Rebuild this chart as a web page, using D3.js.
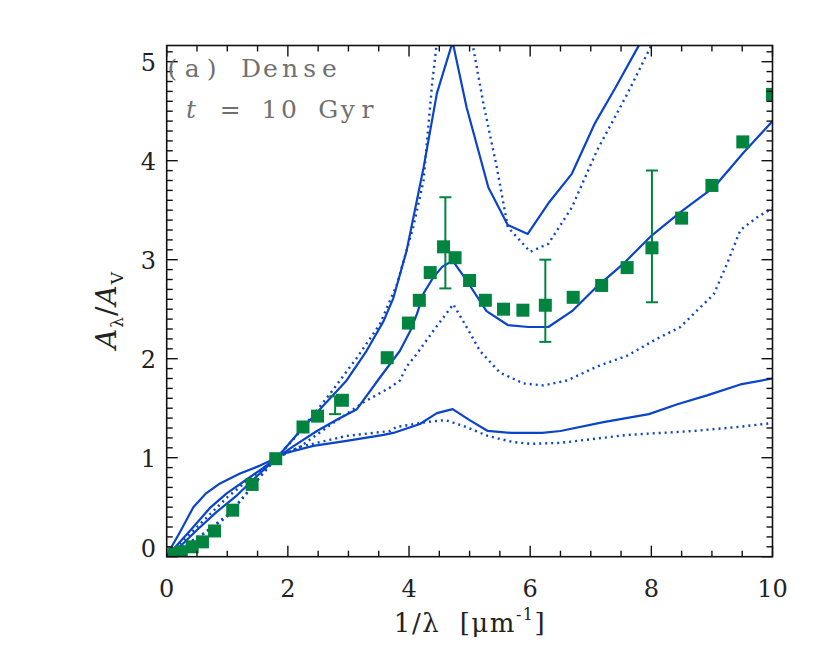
<!DOCTYPE html>
<html><head><meta charset="utf-8">
<script src="https://cdn.jsdelivr.net/npm/d3@7"></script>
<style>body{margin:0;background:#fff}</style>
</head><body>
<svg id="chart" width="830" height="656"></svg>
<script>
// ---------------- data ----------------
const xTickValues = [0, 2, 4, 6, 8, 10];
const yTickValues = [0, 1, 2, 3, 4, 5];
const xTickLabels = ["0", "2", "4", "6", "8", "10"];
const yTickLabels = ["0", "1", "2", "3", "4", "5"];

// model curves [1/lambda, A_lambda/A_V]
const topSolid = [[0,0],[0.25,0.12],[0.5,0.27],[0.82,0.45],[1.16,0.62],[1.5,0.82],[1.82,1.0],[2.2,1.27],[2.53,1.49],[2.97,1.78],[3.3,2.08],[3.58,2.38],[3.74,2.61],[3.96,3.09],[4.24,3.93],[4.46,4.68],[4.72,5.2],[4.95,4.54],[5.31,3.73],[5.63,3.35],[5.96,3.26],[6.30,3.57],[6.69,3.87],[7.07,4.38],[7.40,4.73],[7.79,5.16],[8.0,5.45]];
const topDotted = [[0,0],[0.6,0.23],[1.0,0.42],[1.32,0.64],[1.6,0.85],[1.82,1.0],[2.14,1.22],[2.69,1.64],[3.14,2.01],[3.52,2.35],[3.80,2.75],[4.07,3.33],[4.24,3.80],[4.38,4.77],[4.72,6.6],[5.06,5.14],[5.23,4.57],[5.45,3.93],[5.63,3.33],[6.0,3.08],[6.30,3.16],[6.69,3.53],[7.10,4.10],[7.60,4.67],[7.98,5.14],[8.2,5.45]];
const midSolid = [[0,0],[0.44,0.30],[0.71,0.49],[0.99,0.64],[1.32,0.78],[1.6,0.9],[1.82,1.0],[2.1,1.12],[2.48,1.27],[2.8,1.38],[3.14,1.49],[3.52,1.81],[3.85,2.08],[4.02,2.28],[4.13,2.45],[4.24,2.66],[4.40,2.82],[4.55,2.93],[4.72,2.99],[4.95,2.79],[5.28,2.48],[5.63,2.34],[5.97,2.32],[6.30,2.32],[6.69,2.48],[7.07,2.71],[7.54,2.96],[7.98,3.23],[8.48,3.48],[9.03,3.73],[9.52,4.08],[10.0,4.40]];
const midDotted = [[0,0],[0.6,0.23],[0.99,0.40],[1.32,0.64],[1.6,0.85],[1.82,1.0],[2.2,1.11],[2.7,1.33],[3.25,1.56],[3.69,1.71],[3.85,1.78],[3.96,1.92],[4.13,2.05],[4.40,2.28],[4.73,2.55],[4.95,2.32],[5.17,2.08],[5.50,1.86],[5.89,1.75],[6.22,1.73],[6.61,1.78],[7.10,1.92],[7.60,2.03],[8.09,2.20],[8.48,2.32],[8.76,2.49],[9.03,2.65],[9.25,2.96],[9.47,3.30],[9.75,3.43],[10.0,3.52]];
const lowSolid = [[0,0],[0.1,0.12],[0.22,0.25],[0.44,0.50],[0.65,0.64],[0.88,0.74],[1.21,0.84],[1.54,0.92],[1.82,1.0],[1.92,1.04],[2.42,1.12],[2.97,1.17],[3.58,1.23],[3.74,1.25],[4.18,1.34],[4.46,1.45],[4.72,1.49],[5.0,1.38],[5.3,1.27],[5.7,1.25],[6.2,1.25],[6.5,1.27],[7.21,1.36],[7.96,1.44],[8.43,1.54],[8.92,1.63],[9.47,1.74],[10.0,1.80]];
const lowDotted = [[0,0],[0.5,0.3],[1.0,0.6],[1.4,0.8],[1.82,1.0],[2.2,1.11],[2.97,1.22],[3.69,1.27],[3.79,1.31],[4.29,1.36],[4.6,1.38],[4.9,1.32],[5.3,1.22],[5.7,1.16],[6.0,1.14],[6.5,1.15],[7.6,1.23],[8.7,1.27],[9.42,1.31],[10.0,1.35]];

// observed extinction (squares)
const obsX = [0.13,0.24,0.42,0.59,0.79,1.09,1.41,1.80,2.25,2.49,2.90,3.64,3.99,4.17,4.35,4.57,4.76,5.0,5.26,5.56,5.88,6.25,6.71,7.18,7.60,8.01,8.50,9.0,9.51,10.0];
const obsY = [0.03,0.05,0.10,0.15,0.26,0.47,0.73,0.99,1.31,1.42,1.58,2.01,2.36,2.59,2.87,3.13,3.02,2.79,2.59,2.50,2.49,2.54,2.62,2.74,2.92,3.12,3.42,3.75,4.19,4.67];
// error bars
const errX  = [2.78, 4.60, 6.25, 8.01];
const errLo = [1.44, 2.71, 2.17, 2.57];
const errHi = [1.62, 3.63, 3.00, 3.90];

// ---------------- drawing ----------------
const svg = d3.select("#chart");
const L = 166.7, R = 772.5, T = 45.5, B = 556.7;
const x = d3.scaleLinear().domain([0, 10]).range([L, R]);
const y = d3.scaleLinear().domain([0, (B - T) / 99]).range([B, T]);

const blue = "#0a44c8", green = "#00843f";
const serif = "DejaVu Serif, Liberation Serif, serif";

svg.append("defs").append("clipPath").attr("id", "clip")
  .append("rect").attr("x", L).attr("y", T).attr("width", R - L).attr("height", B - T);

const plot = svg.append("g").attr("clip-path", "url(#clip)");
const line = d3.line().x(d => x(d[0])).y(d => y(d[1]));

const curves = [
  {d: topSolid, dash: null}, {d: topDotted, dash: "2,4"},
  {d: midSolid, dash: null}, {d: midDotted, dash: "2,4"},
  {d: lowSolid, dash: null}, {d: lowDotted, dash: "2,4"}
];
curves.forEach(c => {
  plot.append("path").datum(c.d).attr("d", line)
    .attr("fill", "none").attr("stroke", blue)
    .attr("stroke-width", c.dash ? 2.4 : 2.2)
    .attr("stroke-dasharray", c.dash)
    .attr("stroke-linejoin", "round");
});

// error bars
errX.forEach((ex, i) => {
  const g = plot.append("g").attr("stroke", green).attr("stroke-width", 2);
  g.append("line").attr("x1", x(ex)).attr("x2", x(ex)).attr("y1", y(errLo[i])).attr("y2", y(errHi[i]));
  g.append("line").attr("x1", x(ex) - 6).attr("x2", x(ex) + 6).attr("y1", y(errLo[i])).attr("y2", y(errLo[i]));
  g.append("line").attr("x1", x(ex) - 6).attr("x2", x(ex) + 6).attr("y1", y(errHi[i])).attr("y2", y(errHi[i]));
});

// squares
const S = 13;
plot.selectAll("rect.obs").data(obsX.map((v, i) => [v, obsY[i]])).enter()
  .append("rect").attr("class", "obs")
  .attr("x", d => x(d[0]) - S / 2).attr("y", d => y(d[1]) - S / 2)
  .attr("width", S).attr("height", S).attr("fill", green);

// axes (ticks inward, on all four sides)
const minorX = d3.range(0, 10.001, 0.5);
const minorY = d3.range(0, 5.15, 0.1);
const ax = svg.append("g").attr("stroke", "#111").attr("stroke-width", 1.4);
minorX.forEach(v => {
  const major = Math.abs(v / 2 - Math.round(v / 2)) < 1e-6;
  const len = major ? 11 : 6;
  ax.append("line").attr("x1", x(v)).attr("x2", x(v)).attr("y1", B).attr("y2", B - len);
  ax.append("line").attr("x1", x(v)).attr("x2", x(v)).attr("y1", T).attr("y2", T + len);
});
minorY.forEach(v => {
  const major = Math.abs(v - Math.round(v)) < 1e-6;
  const len = major ? 11 : 6;
  ax.append("line").attr("y1", y(v)).attr("y2", y(v)).attr("x1", L).attr("x2", L + len);
  ax.append("line").attr("y1", y(v)).attr("y2", y(v)).attr("x1", R).attr("x2", R - len);
});
svg.append("rect").attr("x", L).attr("y", T).attr("width", R - L).attr("height", B - T)
  .attr("fill", "none").attr("stroke", "#111").attr("stroke-width", 1.6);

// tick labels
svg.append("g").selectAll("text").data(xTickValues).enter().append("text")
  .attr("x", d => x(d)).attr("y", 597).attr("text-anchor", "middle")
  .style("font-family", serif).attr("font-size", 24).attr("fill", "#222")
  .text((d, i) => xTickLabels[i]);
svg.append("g").selectAll("text").data(yTickValues).enter().append("text")
  .attr("x", 156).attr("y", d => y(d) + (d === 0 ? 0 : 9)).attr("text-anchor", "end")
  .style("font-family", serif).attr("font-size", 24).attr("fill", "#222")
  .text((d, i) => yTickLabels[i]);

// axis titles
const xt = svg.append("text").attr("x", 470).attr("y", 632).attr("text-anchor", "middle")
  .style("font-family", serif).style("white-space", "pre").style("letter-spacing", "1.5px")
  .attr("font-size", 26).attr("fill", "#222");
xt.append("tspan").text("1/λ  [μm");
xt.append("tspan").attr("font-size", 16).attr("dy", -12).text("-1");
xt.append("tspan").attr("dy", 12).text("]");

const yt = svg.append("text").attr("transform", "translate(116,310) rotate(-90)")
  .attr("text-anchor", "middle").style("font-family", serif).style("letter-spacing", "1px")
  .attr("font-size", 28).attr("fill", "#222");
yt.append("tspan").attr("font-style", "italic").text("A");
yt.append("tspan").attr("font-size", 17).attr("dy", 7).text("λ");
yt.append("tspan").attr("dy", -7).text("/");
yt.append("tspan").attr("font-style", "italic").text("A");
yt.append("tspan").attr("font-size", 17).attr("dy", 7).text("V");

// monospaced annotation
function monoText(str, c0, cell, baseline, italicIdx) {
  const t = svg.append("text").attr("y", baseline)
    .style("font-family", serif).attr("font-size", 25).attr("fill", "#707070");
  const chars = Array.from(str);
  chars.forEach((ch, i) => {
    const sp = t.append("tspan").text(ch);
    if (italicIdx.includes(i)) sp.attr("font-style", "italic");
    const w = sp.node().getComputedTextLength();
    sp.attr("x", c0 + i * cell - w / 2);
  });
  return t;
}
monoText("(a) Dense", 172.5, 19.6, 77, []);
monoText("t = 10 Gyr", 191, 19.6, 118, [0]);
</script>
</body></html>
